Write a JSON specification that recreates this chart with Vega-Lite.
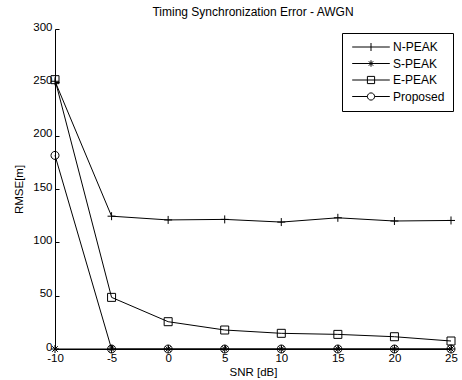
{
  "$schema": "https://vega.github.io/schema/vega-lite/v6.json",
  "width": 396,
  "height": 320,
  "autosize": "none",
  "padding": {"left": 55, "top": 29, "right": 11, "bottom": 31},
  "background": "white",
  "config": {
    "view": {"stroke": null},
    "font": "Liberation Sans",
    "axis": {
      "domainColor": "black",
      "tickColor": "black",
      "labelColor": "black",
      "titleColor": "black",
      "labelFont": "Liberation Sans",
      "titleFont": "Liberation Sans",
      "labelFontSize": 11.5,
      "titleFontSize": 11.5,
      "titleFontWeight": "normal",
      "grid": false,
      "tickSize": -4,
      "labelPadding": 7,
      "labelFlush": false,
      "labelOverlap": false
    },
    "title": {"font": "Liberation Sans", "fontSize": 12, "fontWeight": "normal", "color": "black"}
  },
  "title": {"text": "Timing Synchronization Error - AWGN", "anchor": "middle", "offset": 2},
  "data": {
    "values": [
      {"snr": -10, "rmse": 251, "series": "N-PEAK"},
      {"snr": -5, "rmse": 124.5, "series": "N-PEAK"},
      {"snr": 0, "rmse": 121, "series": "N-PEAK"},
      {"snr": 5, "rmse": 121.5, "series": "N-PEAK"},
      {"snr": 10, "rmse": 119, "series": "N-PEAK"},
      {"snr": 15, "rmse": 123, "series": "N-PEAK"},
      {"snr": 20, "rmse": 120, "series": "N-PEAK"},
      {"snr": 25, "rmse": 120.5, "series": "N-PEAK"},
      {"snr": -10, "rmse": 0, "series": "S-PEAK"},
      {"snr": -5, "rmse": 0, "series": "S-PEAK"},
      {"snr": 0, "rmse": 0, "series": "S-PEAK"},
      {"snr": 5, "rmse": 0, "series": "S-PEAK"},
      {"snr": 10, "rmse": 0, "series": "S-PEAK"},
      {"snr": 15, "rmse": 0, "series": "S-PEAK"},
      {"snr": 20, "rmse": 0, "series": "S-PEAK"},
      {"snr": 25, "rmse": 0, "series": "S-PEAK"},
      {"snr": -10, "rmse": 252.5, "series": "E-PEAK"},
      {"snr": -5, "rmse": 48.4, "series": "E-PEAK"},
      {"snr": 0, "rmse": 25.6, "series": "E-PEAK"},
      {"snr": 5, "rmse": 17.8, "series": "E-PEAK"},
      {"snr": 10, "rmse": 14.7, "series": "E-PEAK"},
      {"snr": 15, "rmse": 13.7, "series": "E-PEAK"},
      {"snr": 20, "rmse": 11.5, "series": "E-PEAK"},
      {"snr": 25, "rmse": 7.5, "series": "E-PEAK"},
      {"snr": -10, "rmse": 181.5, "series": "Proposed"},
      {"snr": -5, "rmse": 0, "series": "Proposed"},
      {"snr": 0, "rmse": 0, "series": "Proposed"},
      {"snr": 5, "rmse": 0, "series": "Proposed"},
      {"snr": 10, "rmse": 0, "series": "Proposed"},
      {"snr": 15, "rmse": 0, "series": "Proposed"},
      {"snr": 20, "rmse": 0, "series": "Proposed"},
      {"snr": 25, "rmse": 0, "series": "Proposed"}
    ]
  },
  "encoding": {
    "x": {
      "field": "snr", "type": "quantitative",
      "scale": {"domain": [-10, 25], "nice": false, "zero": false},
      "axis": {"values": [-10, -5, 0, 5, 10, 15, 20, 25], "labelExpr": "'' + datum.value", "title": "SNR [dB]", "titlePadding": 3, "labelPadding": 7}
    },
    "y": {
      "field": "rmse", "type": "quantitative",
      "scale": {"domain": [0, 300], "nice": false},
      "axis": {"values": [0, 50, 100, 150, 200, 250, 300], "title": "RMSE[m]", "titlePadding": 8, "labelOffset": -2}
    }
  },
  "layer": [
    {
      "mark": {"type": "line", "stroke": "black", "strokeWidth": 1},
      "encoding": {"detail": {"field": "series"}}
    },
    {
      "mark": {"type": "point", "filled": false, "stroke": "black", "strokeWidth": 1, "size": 64, "opacity": 1},
      "encoding": {
        "shape": {
          "field": "series", "type": "nominal",
          "scale": {
            "domain": ["N-PEAK", "S-PEAK", "E-PEAK", "Proposed"],
            "range": [
              "M-1,0H1M0,-1V1",
              "M-1,0H1M0,-1V1M-0.7,-0.7L0.7,0.7M-0.7,0.7L0.7,-0.7",
              "M-1,-1H1V1H-1Z",
              "M1,0A1,1,0,1,1,-1,0A1,1,0,1,1,1,0"
            ]
          },
          "legend": null
        }
      }
    },
    {
      "transform": [{"filter": "false"}],
      "mark": {"type": "point", "filled": false, "stroke": "black", "strokeWidth": 1, "size": 64, "opacity": 1},
      "encoding": {
        "shape": {
          "field": "series", "type": "nominal",
          "scale": {
            "domain": ["N-PEAK", "S-PEAK", "E-PEAK", "Proposed"],
            "range": [
              "M-4.7,0H4.7M0,-1V1",
              "M-4.7,0H4.7M0,-0.8V0.8M-0.55,-0.55L0.55,0.55M-0.55,0.55L0.55,-0.55",
              "M-4.7,0H4.7M-0.9,-0.9H0.9V0.9H-0.9Z",
              "M-4.7,0H-0.9M0.9,0H4.7M0.9,0A0.9,0.9,0,1,1,-0.9,0A0.9,0.9,0,1,1,0.9,0"
            ]
          },
          "legend": {
            "title": null,
            "orient": "none",
            "legendX": 287,
            "legendY": 4,
            "strokeColor": "black",
            "fillColor": "white",
            "padding": 8,
            "labelFont": "Liberation Sans",
            "labelFontSize": 12,
            "labelColor": "black",
            "symbolSize": 64,
            "symbolStrokeColor": "black",
            "symbolStrokeWidth": 1,
            "symbolFillColor": "transparent",
            "symbolOffset": 15,
            "labelOffset": 16,
            "rowPadding": 4.5
          }
        }
      }
    }
  ],
  "resolve": {"scale": {"shape": "independent"}, "legend": {"shape": "independent"}}
}
